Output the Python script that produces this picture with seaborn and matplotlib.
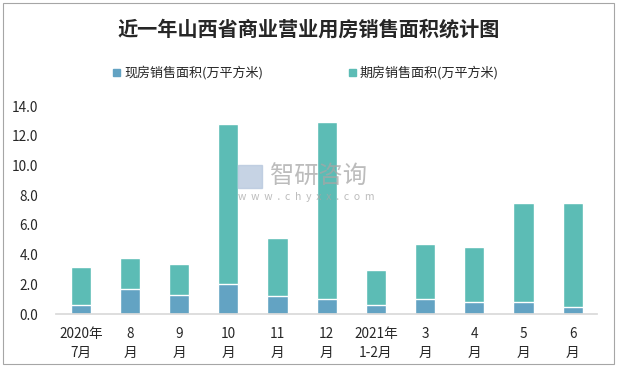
import seaborn as sns
import matplotlib.pyplot as plt
import pandas as pd
from matplotlib.patches import Rectangle

months = ["2020年\n7月", "8\n月", "9\n月", "10\n月", "11\n月", "12\n月",
          "2021年\n1-2月", "3\n月", "4\n月", "5\n月", "6\n月"]
xianfang = [0.6, 1.7, 1.3, 2.0, 1.2, 1.0, 0.6, 1.0, 0.8, 0.8, 0.5]
qifang = [2.6, 2.1, 2.1, 10.8, 3.9, 11.9, 2.4, 3.7, 3.7, 6.7, 7.0]

df = pd.DataFrame({"月份": months, "现房": xianfang, "期房": qifang})
df["合计"] = df["现房"] + df["期房"]

sns.set_theme(style="white")
plt.rcParams["font.family"] = ["Noto Sans CJK SC", "DejaVu Sans"]

blue = "#63A3C3"
green = "#5CBCB5"

fig = plt.figure(figsize=(6.17, 3.67), dpi=100)
ax = fig.add_axes([0.091, 0.144, 0.877, 0.567])

# stacked: total in green, then the 现房 part over it
sns.barplot(data=df, x="月份", y="合计", color=green, width=0.41,
            saturation=1, ax=ax, label="期房销售面积(万平方米)")
sns.barplot(data=df, x="月份", y="现房", color=blue, width=0.41,
            saturation=1, ax=ax, label="现房销售面积(万平方米)")

ax.set_ylim(0, 14)
ax.set_yticks([0, 2, 4, 6, 8, 10, 12, 14])
ax.set_yticklabels([f"{v:.1f}" for v in range(0, 15, 2)], fontsize=9.8)
ax.tick_params(axis="x", labelsize=9.8, pad=9, length=0)
ax.tick_params(axis="y", length=0, pad=13)
for lab in ax.get_xticklabels():
    lab.set_linespacing(1.45)
ax.set_xlabel("")
ax.set_ylabel("")
sns.despine(ax=ax, left=True)
ax.spines["bottom"].set_color("#D9D9D9")
ax.set_xlim(-0.5, len(months) - 0.5)

if ax.get_legend():
    ax.get_legend().remove()

# legend drawn by hand to match layout
fig.patches.append(Rectangle((0.183, 0.792), 0.012, 0.02, transform=fig.transFigure,
                             color=blue))
fig.text(0.201, 0.803, "现房销售面积(万平方米)", fontsize=9.4, va="center")
fig.patches.append(Rectangle((0.565, 0.792), 0.012, 0.02, transform=fig.transFigure,
                             color=green))
fig.text(0.583, 0.803, "期房销售面积(万平方米)", fontsize=9.4, va="center")

fig.text(0.501, 0.922, "近一年山西省商业营业用房销售面积统计图", fontsize=14.5,
         fontweight="bold", ha="center", va="center")

# watermark
fig.patches.append(Rectangle((0.386, 0.488), 0.039, 0.063, transform=fig.transFigure,
                             color="#B8C8DE", alpha=0.8))
fig.text(0.437, 0.518, "智研咨询", fontsize=17.5, color="#A6A6A6", alpha=0.75,
         va="center")
fig.text(0.386, 0.462, "w  w  w  .  c  h  y  x  x  .  c  o  m", fontsize=7.5,
         color="#A6A6A6", alpha=0.75, va="center")

fig.patches.append(Rectangle((0.005, 0.008), 0.99, 0.985, transform=fig.transFigure,
                             fill=False, edgecolor="#A6A6A6", linewidth=0.8))

fig.savefig("out.png", dpi=100)
